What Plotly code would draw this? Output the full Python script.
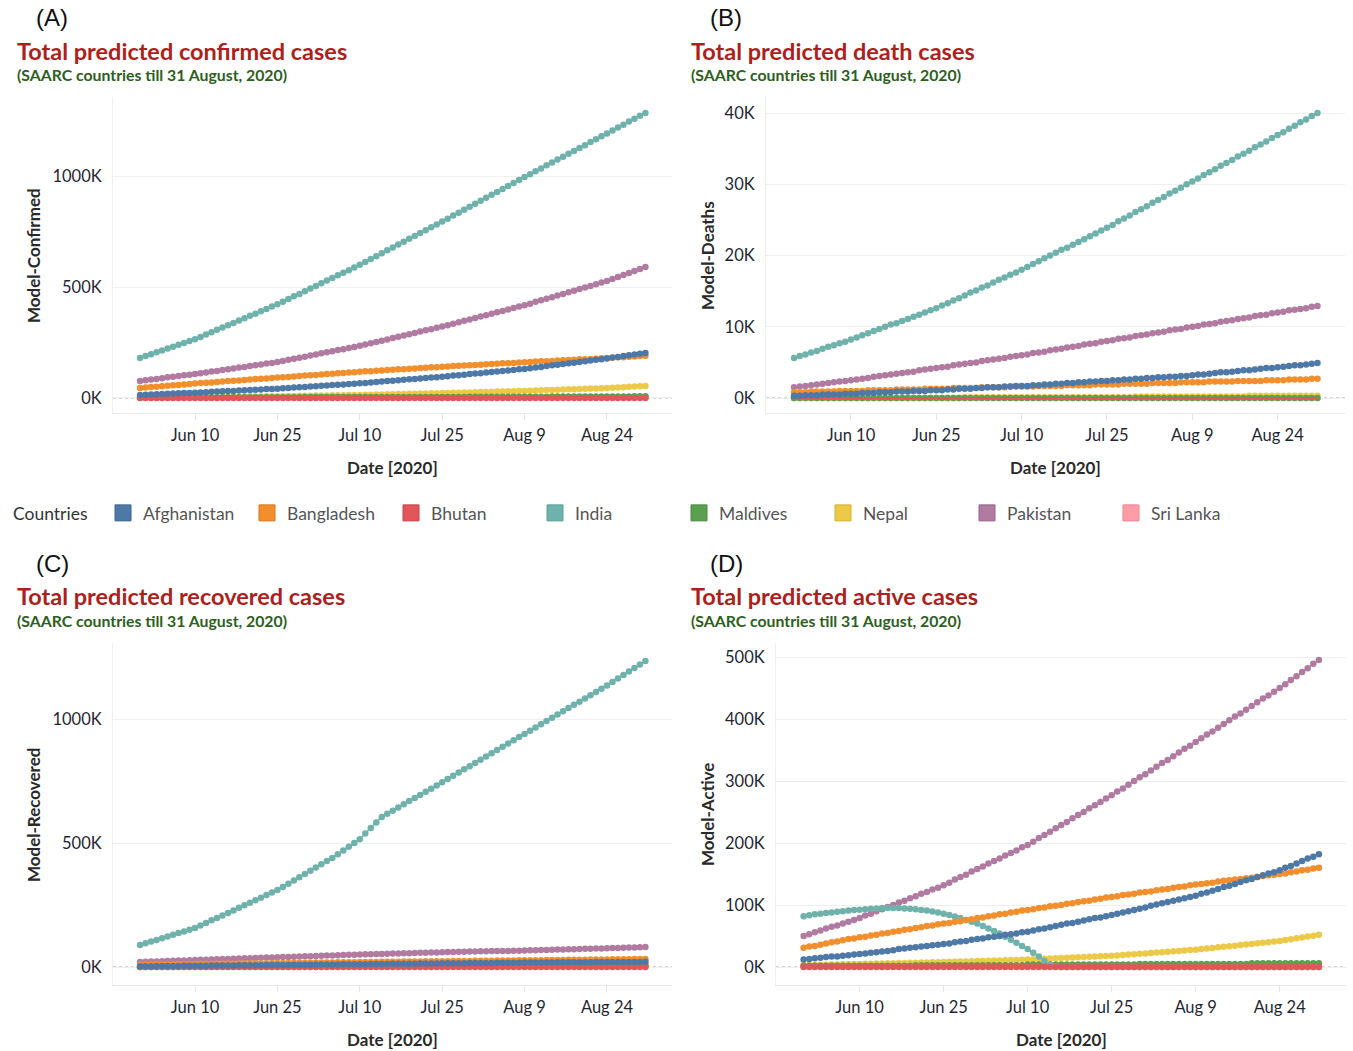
import pandas as pd
import plotly.graph_objects as go

# ---------------------------------------------------------------- data (K)
dates = pd.date_range("2020-05-31", "2020-08-31", freq="D")
tick_dates = ["2020-06-10", "2020-06-25", "2020-07-10", "2020-07-25", "2020-08-09", "2020-08-24"]
tick_labels = ["Jun 10", "Jun 25", "Jul 10", "Jul 25", "Aug 9", "Aug 24"]
countries = ["Afghanistan", "Bangladesh", "Bhutan", "India", "Maldives", "Nepal", "Pakistan", "Sri Lanka"]
colors = ["#4e79a7", "#f28e2b", "#e15759", "#6fb2ac", "#59a14f", "#edc948", "#b07aa1", "#ff9da7"]
edge_colors = ["#3b6491", "#d9761a", "#c8414a", "#57a09a", "#468c3d", "#d4b030", "#98628a", "#e8838e"]

ticks_confirmed = [0, 500, 1000]
ticks_deaths = [0, 10, 20, 30, 40]
ticks_recovered = [0, 500, 1000]
ticks_active = [0, 100, 200, 300, 400, 500]

# Confirmed cases
confirmed_afghanistan = [
    14, 15, 16, 17, 18, 19, 20, 21, 22, 23, 24,
    25, 26, 28, 29, 30, 31, 32, 34, 35, 36, 37, 38, 40, 41, 42,
    44, 45, 47, 48, 50, 52, 53, 55, 56, 58, 60, 61, 63, 64, 66,
    68, 70, 72, 74, 76, 78, 80, 82, 84, 86, 88, 90, 92, 94, 96,
    98, 101, 103, 105, 108, 110, 112, 115, 117, 119, 122, 124, 126, 129, 131,
    134, 137, 140, 144, 147, 150, 153, 156, 159, 162, 165, 169, 172, 175, 178,
    182, 185, 189, 192, 196, 199, 203]
confirmed_bangladesh = [
    45, 47, 49, 51, 53, 55, 57, 59, 61, 63, 65,
    67, 69, 70, 72, 74, 76, 78, 79, 81, 83, 85, 87, 88, 90, 92,
    94, 95, 97, 99, 101, 102, 104, 106, 108, 109, 111, 113, 115, 116, 118,
    120, 121, 123, 124, 126, 127, 129, 130, 132, 133, 135, 136, 138, 139, 141,
    142, 144, 145, 146, 148, 149, 150, 152, 153, 154, 156, 157, 158, 160, 161,
    162, 164, 165, 166, 167, 169, 170, 171, 172, 174, 175, 176, 177, 179, 180,
    181, 183, 184, 186, 187, 189, 190]
confirmed_bhutan = [
    0.1, 0.1, 0.1, 0.1, 0.1, 0.1, 0.1, 0.1, 0.1, 0.1, 0.1, 0.1, 0.1, 0.1, 0.1,
    0.1, 0.1, 0.1, 0.1, 0.1, 0.1, 0.1, 0.1, 0.1, 0.1, 0.1, 0.1, 0.1, 0.1, 0.1,
    0.2, 0.2, 0.2, 0.2, 0.2, 0.2, 0.2, 0.2, 0.2, 0.2, 0.2, 0.2, 0.2, 0.2, 0.2,
    0.2, 0.2, 0.2, 0.2, 0.2, 0.2, 0.2, 0.2, 0.2, 0.2, 0.2, 0.2, 0.2, 0.2, 0.2,
    0.2, 0.2, 0.2, 0.2, 0.2, 0.2, 0.2, 0.2, 0.2, 0.2,
    0.3, 0.3, 0.3, 0.3, 0.3, 0.3, 0.3, 0.3, 0.3, 0.3, 0.3, 0.3, 0.3, 0.3, 0.3,
    0.3, 0.3, 0.3, 0.3, 0.3, 0.3, 0.3, 0.3]
confirmed_india = [
    180, 189, 197, 206, 214, 223, 231, 240, 248, 257, 265,
    275, 286, 296, 307, 317, 328, 338, 349, 359, 370, 380, 391, 401, 412, 422,
    434, 446, 458, 469, 481, 493, 505, 517, 529, 541, 553, 564, 576, 588, 600,
    613, 626, 639, 652, 665, 678, 691, 704, 717, 730, 743, 756, 769, 782, 795,
    808, 822, 835, 848, 862, 875, 888, 902, 915, 928, 942, 955, 968, 982, 995,
    1008, 1021, 1034, 1048, 1061, 1074, 1087, 1100, 1113, 1126, 1139, 1153, 1166, 1179, 1192,
    1205, 1218, 1231, 1245, 1258, 1271, 1284]
confirmed_maldives = [
    2, 2, 2, 2, 2, 2, 2, 2, 2, 2, 2, 2, 2, 2, 2,
    3, 3, 3, 3, 3, 3, 3, 3, 3, 3, 3, 3, 3, 3, 3,
    4, 4, 4, 4, 4, 4, 4, 4, 4, 4, 4, 4, 4, 4, 4,
    5, 5, 5, 5, 5, 5, 5, 5, 5, 5, 5, 5, 5, 5, 5,
    6, 6, 6, 6, 6, 6, 6, 6, 6, 6, 6, 6, 6, 6, 6,
    7, 7, 7, 7, 7, 7, 7, 7, 7, 7, 7, 7, 7, 7, 7,
    8, 8, 8]
confirmed_nepal = [
    2.0, 2.2, 2.4, 2.6, 2.8, 3.0, 3.2, 3.4, 3.6, 3.8, 4.0,
    4.3, 4.5, 4.8, 5.1, 5.3, 5.6, 5.9, 6.1, 6.4, 6.7, 6.9, 7.2, 7.5, 7.7, 8.0,
    8.4, 8.8, 9.2, 9.6, 10.0, 10.4, 10.8, 11.2, 11.6, 12.0, 12.4, 12.8, 13.2, 13.6, 14.0,
    14.5, 15.1, 15.6, 16.1, 16.7, 17.2, 17.7, 18.3, 18.8, 19.3, 19.9, 20.4, 20.9, 21.5, 22.0,
    22.7, 23.3, 24.0, 24.7, 25.3, 26.0, 26.7, 27.3, 28.0, 28.7, 29.3, 30.0, 30.7, 31.3, 32.0,
    32.9, 33.7, 34.6, 35.5, 36.3, 37.2, 38.1, 38.9, 39.8, 40.7, 41.5, 42.4, 43.3, 44.1, 45.0,
    46.3, 47.6, 48.9, 50.1, 51.4, 52.7, 54.0]
confirmed_pakistan = [
    77, 80, 83, 86, 89, 93, 96, 99, 102, 105, 108,
    112, 115, 119, 122, 126, 130, 133, 137, 140, 144, 148, 151, 155, 158, 162,
    167, 172, 177, 181, 186, 191, 196, 201, 206, 211, 216, 220, 225, 230, 235,
    241, 247, 252, 258, 264, 270, 276, 281, 287, 293, 299, 305, 310, 316, 322,
    328, 335, 341, 348, 354, 360, 367, 373, 380, 386, 392, 399, 405, 412, 418,
    425, 433, 440, 447, 454, 462, 469, 476, 483, 491, 498, 505, 512, 520, 527,
    536, 545, 554, 563, 572, 581, 590]
confirmed_sri_lanka = [
    2, 2, 2, 2, 2, 2, 2, 2, 2, 2, 2, 2, 2, 2, 2,
    2, 2, 2, 2, 2, 2, 2, 2, 2, 2, 2, 2, 2, 2, 2,
    2, 2, 2, 2, 2, 2, 2, 2, 2, 2, 2, 2, 2, 2, 2,
    2, 2, 2, 2, 2,
    3, 3, 3, 3, 3, 3, 3, 3, 3, 3, 3, 3, 3, 3, 3,
    3, 3, 3, 3, 3, 3, 3, 3, 3, 3, 3, 3, 3, 3, 3,
    3, 3, 3, 3, 3, 3, 3, 3, 3, 3, 3, 3, 3]

# Deaths
deaths_afghanistan = [
    0.3, 0.3, 0.4, 0.4, 0.4, 0.5, 0.5, 0.5, 0.5, 0.6, 0.6,
    0.6, 0.7, 0.7, 0.7, 0.8, 0.8, 0.8, 0.9, 0.9, 0.9, 1.0, 1.0, 1.0, 1.1, 1.1,
    1.1, 1.2, 1.2, 1.3, 1.3, 1.3, 1.4, 1.4, 1.5, 1.5, 1.5, 1.6, 1.6, 1.7, 1.7,
    1.7, 1.8, 1.8, 1.9, 1.9, 2.0, 2.0, 2.1, 2.1, 2.2, 2.2, 2.3, 2.3, 2.4, 2.4,
    2.5, 2.5, 2.6, 2.6, 2.7, 2.7, 2.8, 2.8, 2.9, 2.9, 3.0, 3.0, 3.1, 3.1, 3.2,
    3.3, 3.3, 3.4, 3.5, 3.6, 3.6, 3.7, 3.8, 3.9, 3.9, 4.0, 4.1, 4.2, 4.2, 4.3,
    4.4, 4.5, 4.6, 4.6, 4.7, 4.8, 4.9]
deaths_bangladesh = [
    0.8, 0.8, 0.8, 0.9, 0.9, 0.9, 0.9, 0.9, 1.0, 1.0, 1.0,
    1.0, 1.0, 1.1, 1.1, 1.1, 1.1, 1.1, 1.2, 1.2, 1.2, 1.2, 1.2, 1.3, 1.3, 1.3,
    1.3, 1.3, 1.4, 1.4, 1.4, 1.4, 1.4, 1.5, 1.5, 1.5, 1.5, 1.5, 1.6, 1.6, 1.6,
    1.6, 1.6, 1.7, 1.7, 1.7, 1.7, 1.7, 1.8, 1.8, 1.8, 1.8, 1.8, 1.9, 1.9, 1.9,
    1.9, 1.9, 2.0, 2.0, 2.0, 2.0, 2.0, 2.1, 2.1, 2.1, 2.1, 2.1, 2.2, 2.2, 2.2,
    2.2, 2.2, 2.3, 2.3, 2.3, 2.3, 2.3, 2.4, 2.4, 2.4, 2.4, 2.4, 2.5, 2.5, 2.5,
    2.5, 2.6, 2.6, 2.6, 2.6, 2.7, 2.7]
deaths_bhutan = [
    0, 0, 0, 0, 0, 0, 0, 0, 0, 0, 0, 0, 0, 0, 0, 0, 0, 0, 0, 0, 0, 0, 0, 0, 0, 0, 0, 0, 0, 0, 0,
    0, 0, 0, 0, 0, 0, 0, 0, 0, 0, 0, 0, 0, 0, 0, 0, 0, 0, 0, 0, 0, 0, 0, 0, 0, 0, 0, 0, 0, 0, 0,
    0, 0, 0, 0, 0, 0, 0, 0, 0, 0, 0, 0, 0, 0, 0, 0, 0, 0, 0, 0, 0, 0, 0, 0, 0, 0, 0, 0, 0, 0, 0]
deaths_india = [
    5.6, 5.9, 6.1, 6.4, 6.6, 6.9, 7.2, 7.4, 7.7, 7.9, 8.2,
    8.5, 8.8, 9.1, 9.4, 9.7, 10.0, 10.3, 10.5, 10.8, 11.1, 11.4, 11.7, 12.0, 12.3, 12.6,
    13.0, 13.3, 13.7, 14.0, 14.4, 14.8, 15.1, 15.5, 15.8, 16.2, 16.6, 16.9, 17.3, 17.6, 18.0,
    18.4, 18.8, 19.2, 19.6, 20.0, 20.4, 20.8, 21.1, 21.5, 21.9, 22.3, 22.7, 23.1, 23.5, 23.9,
    24.3, 24.8, 25.2, 25.6, 26.1, 26.5, 26.9, 27.4, 27.8, 28.2, 28.7, 29.1, 29.5, 30.0, 30.4,
    30.8, 31.3, 31.7, 32.1, 32.6, 33.0, 33.4, 33.9, 34.3, 34.7, 35.2, 35.6, 36.0, 36.5, 36.9,
    37.3, 37.8, 38.2, 38.7, 39.1, 39.6, 40.0]
deaths_maldives = [
    0, 0, 0, 0, 0, 0, 0, 0, 0, 0, 0, 0, 0, 0, 0, 0, 0, 0, 0, 0, 0, 0, 0, 0, 0, 0, 0, 0, 0, 0, 0,
    0, 0, 0, 0, 0, 0, 0, 0, 0, 0, 0, 0, 0, 0, 0, 0, 0, 0, 0, 0, 0, 0, 0, 0, 0, 0, 0, 0, 0, 0, 0,
    0, 0, 0, 0, 0, 0, 0, 0, 0, 0, 0, 0, 0, 0, 0, 0, 0, 0, 0, 0, 0, 0, 0, 0, 0, 0, 0, 0, 0, 0, 0]
deaths_nepal = [
    0.0, 0.0, 0.0, 0.0, 0.0, 0.0, 0.0, 0.0, 0.0, 0.0, 0.0, 0.0, 0.0, 0.0, 0.0,
    0.0, 0.0, 0.0, 0.0, 0.0, 0.0, 0.0, 0.0, 0.0, 0.0, 0.0, 0.0, 0.0, 0.0, 0.0,
    0.1, 0.1, 0.1, 0.1, 0.1, 0.1, 0.1, 0.1, 0.1, 0.1, 0.1, 0.1, 0.1, 0.1, 0.1,
    0.1, 0.1, 0.1, 0.1, 0.1, 0.1, 0.1, 0.1, 0.1, 0.1, 0.1, 0.1, 0.1, 0.1, 0.1,
    0.2, 0.2, 0.2, 0.2, 0.2, 0.2, 0.2, 0.2, 0.2, 0.2, 0.2, 0.2, 0.2, 0.2, 0.2,
    0.2, 0.2, 0.2, 0.2, 0.2,
    0.3, 0.3, 0.3, 0.3, 0.3, 0.3, 0.3, 0.3, 0.3, 0.3, 0.3, 0.3, 0.3]
deaths_pakistan = [
    1.5, 1.6, 1.7, 1.8, 1.9, 2.0, 2.1, 2.2, 2.3, 2.4, 2.5,
    2.6, 2.7, 2.8, 3.0, 3.1, 3.2, 3.3, 3.4, 3.5, 3.6, 3.7, 3.9, 4.0, 4.1, 4.2,
    4.3, 4.4, 4.6, 4.7, 4.8, 4.9, 5.0, 5.2, 5.3, 5.4, 5.5, 5.6, 5.8, 5.9, 6.0,
    6.1, 6.3, 6.4, 6.5, 6.7, 6.8, 6.9, 7.1, 7.2, 7.3, 7.5, 7.6, 7.7, 7.9, 8.0,
    8.1, 8.3, 8.4, 8.5, 8.7, 8.8, 8.9, 9.1, 9.2, 9.3, 9.5, 9.6, 9.7, 9.9, 10.0,
    10.1, 10.3, 10.4, 10.5, 10.7, 10.8, 10.9, 11.1, 11.2, 11.3, 11.5, 11.6, 11.7, 11.9, 12.0,
    12.1, 12.3, 12.4, 12.5, 12.6, 12.8, 12.9]
deaths_sri_lanka = [
    0, 0, 0, 0, 0, 0, 0, 0, 0, 0, 0, 0, 0, 0, 0, 0, 0, 0, 0, 0, 0, 0, 0, 0, 0, 0, 0, 0, 0, 0, 0,
    0, 0, 0, 0, 0, 0, 0, 0, 0, 0, 0, 0, 0, 0, 0, 0, 0, 0, 0, 0, 0, 0, 0, 0, 0, 0, 0, 0, 0, 0, 0,
    0, 0, 0, 0, 0, 0, 0, 0, 0, 0, 0, 0, 0, 0, 0, 0, 0, 0, 0, 0, 0, 0, 0, 0, 0, 0, 0, 0, 0, 0, 0]

# Recovered
recovered_afghanistan = [
    3, 3, 3, 4, 4, 4, 4, 4, 5, 5, 5,
    5, 5, 6, 6, 6, 6, 6, 7, 7, 7, 7, 7, 8, 8, 8,
    8, 8, 9, 9, 9, 9, 10, 10, 10, 10, 10, 11, 11, 11, 11,
    11, 12, 12, 12, 12, 13, 13, 13, 13, 13, 14, 14, 14, 14, 15,
    15, 15, 15, 15, 16, 16, 16, 16, 16, 17, 17, 17, 17, 17, 18,
    18, 18, 18, 18, 18, 19, 19, 19, 19, 19, 19, 19, 20, 20, 20,
    20, 20, 20, 20, 20, 20, 21]
recovered_bangladesh = [
    10, 10, 10, 11, 11, 11, 11, 12, 12, 12, 12,
    13, 13, 13, 13, 14, 14, 14, 14, 15, 15, 15, 15, 15, 16, 16,
    16, 16, 17, 17, 17, 17, 18, 18, 18, 18, 19, 19, 19, 19, 20,
    20, 20, 20, 21, 21, 21, 21, 22, 22, 22, 22, 23, 23, 23, 23,
    23, 24, 24, 24, 24, 25, 25, 25, 25, 26, 26, 26, 26, 27, 27,
    27, 27, 27, 28, 28, 28, 28, 29, 29, 29, 29, 30, 30, 30, 30,
    31, 31, 31, 31, 32, 32, 32]
recovered_bhutan = [
    0.0, 0.0, 0.0, 0.0, 0.0, 0.0, 0.0, 0.0, 0.0, 0.0, 0.0, 0.0, 0.0, 0.0, 0.0,
    0.0, 0.0, 0.0, 0.0, 0.0, 0.0, 0.0, 0.0, 0.0, 0.0, 0.0, 0.0, 0.0, 0.0, 0.0,
    0.0, 0.0, 0.0, 0.0, 0.0, 0.0, 0.0, 0.0, 0.0, 0.0,
    0.1, 0.1, 0.1, 0.1, 0.1, 0.1, 0.1, 0.1, 0.1, 0.1, 0.1, 0.1, 0.1, 0.1, 0.1,
    0.1, 0.1, 0.1, 0.1, 0.1, 0.1, 0.1, 0.1, 0.1, 0.1, 0.1, 0.1, 0.1, 0.1, 0.1,
    0.1, 0.1, 0.1, 0.1, 0.1, 0.1, 0.1, 0.1, 0.1, 0.1, 0.1, 0.1, 0.1, 0.1, 0.1,
    0.1, 0.1, 0.1, 0.1, 0.1, 0.1, 0.1, 0.1]
recovered_india = [
    89, 96, 103, 109, 116, 123, 130, 137, 143, 150, 157,
    167, 177, 188, 198, 208, 218, 228, 239, 249, 259, 269, 279, 290, 300, 310,
    323, 336, 349, 362, 375, 388, 401, 414, 427, 440,
    455, 470, 485, 500, 515,
    538, 560, 583, 605,
    618, 630, 643, 656, 669, 681, 694, 707, 719, 732, 745,
    758, 771, 784, 797, 810, 823, 836, 849, 862, 875, 888, 901, 914, 927, 940,
    953, 966, 979, 992, 1005, 1018, 1031, 1044, 1057, 1070, 1083, 1096, 1109, 1122, 1135,
    1149, 1163, 1177, 1192, 1206, 1220, 1234]
recovered_maldives = [
    1, 1, 1, 1, 1, 1, 1, 1, 1, 1, 1, 1, 1, 1, 1,
    2, 2, 2, 2, 2, 2, 2, 2, 2, 2, 2, 2, 2, 2, 2,
    3, 3, 3, 3, 3, 3, 3, 3, 3, 3, 3, 3, 3, 3, 3,
    4, 4, 4, 4, 4, 4, 4, 4, 4, 4, 4, 4, 4, 4, 4,
    5, 5, 5, 5, 5, 5, 5, 5, 5, 5, 5, 5, 5, 5, 5,
    6, 6, 6, 6, 6, 6, 6, 6, 6, 6, 6, 6, 6, 6, 6, 6, 6, 6]
recovered_nepal = [
    0, 0, 0, 0, 0, 0, 1, 1, 1, 1, 1,
    1, 1, 1, 1, 1, 1, 1, 1, 2, 2, 2, 2, 2, 2, 2,
    2, 2, 3, 3, 3, 3, 3, 3, 3, 4, 4, 4, 4, 4, 4,
    4, 5, 5, 5, 5, 5, 5, 6, 6, 6, 6, 6, 6, 7, 7,
    7, 7, 7, 7, 8, 8, 8, 8, 8, 8, 9, 9, 9, 9, 9,
    9, 10, 10, 10, 10, 10, 10, 11, 11, 11, 11, 11, 11, 12, 12,
    12, 12, 12, 12, 12, 13, 13]
recovered_pakistan = [
    20, 21, 22, 22, 23, 24, 25, 26, 26, 27, 28,
    29, 29, 30, 31, 32, 32, 33, 34, 35, 35, 36, 37, 38, 38, 39,
    40, 40, 41, 42, 43, 43, 44, 45, 46, 46, 47, 48, 49, 49, 50,
    51, 51, 52, 52, 53, 54, 54, 55, 55, 56, 57, 57, 58, 58, 59,
    60, 60, 61, 61, 62, 62, 63, 63, 64, 64, 65, 65, 66, 66, 67,
    68, 68, 69, 69, 70, 71, 71, 72, 72, 73, 74, 74, 75, 75, 76,
    77, 77, 78, 79, 79, 80, 81]
recovered_sri_lanka = [
    1, 1, 1, 1, 1, 1, 1, 1, 1, 1, 1, 1, 1, 1, 1,
    1, 1, 1, 1, 1, 1, 1, 1, 1, 1, 1, 1, 1, 1, 1,
    2, 2, 2, 2, 2, 2, 2, 2, 2, 2, 2, 2, 2, 2, 2,
    2, 2, 2, 2, 2, 2, 2, 2, 2, 2, 2, 2, 2, 2, 2,
    3, 3, 3, 3, 3, 3, 3, 3, 3, 3, 3, 3, 3, 3, 3,
    3, 3, 3, 3, 3, 3, 3, 3, 3, 3, 3, 3, 3, 3, 3, 3, 3, 3]

# Active cases
active_afghanistan = [
    12, 13, 14, 15, 16, 17, 17, 18, 19, 20, 21,
    22, 23, 24, 25, 26, 27, 29, 30, 31, 32, 33, 34, 35, 36, 37,
    38, 40, 41, 42, 44, 45, 46, 48, 49, 50, 52, 53, 54, 56, 57,
    59, 61, 62, 64, 66, 68, 70, 71, 73, 75, 77, 79, 80, 82, 84,
    86, 88, 90, 92, 94, 96, 99, 101, 103, 105, 107, 109, 111, 113, 115,
    118, 120, 123, 126, 129, 131, 134, 137, 140, 142, 145, 148, 151, 153, 156,
    160, 163, 167, 171, 175, 178, 182]
active_bangladesh = [
    31, 33, 34, 36, 38, 40, 41, 43, 45, 46, 48,
    49, 51, 52, 54, 55, 57, 58, 60, 61, 63, 64, 66, 67, 69, 70,
    71, 73, 74, 76, 77, 79, 80, 82, 83, 85, 86, 88, 89, 91, 92,
    93, 95, 96, 98, 99, 100, 102, 103, 105, 106, 107, 109, 110, 112, 113,
    114, 116, 117, 118, 120, 121, 122, 124, 125, 126, 128, 129, 130, 132, 133,
    134, 135, 136, 138, 139, 140, 141, 142, 143, 144, 145, 147, 148, 149, 150,
    151, 153, 154, 156, 157, 159, 160]
active_bhutan = [
    0, 0, 0, 0, 0, 0, 0, 0, 0, 0, 0, 0, 0, 0, 0, 0, 0, 0, 0, 0, 0, 0, 0, 0, 0, 0, 0, 0, 0, 0, 0,
    0, 0, 0, 0, 0, 0, 0, 0, 0, 0, 0, 0, 0, 0, 0, 0, 0, 0, 0, 0, 0, 0, 0, 0, 0, 0, 0, 0, 0, 0, 0,
    0, 0, 0, 0, 0, 0, 0, 0, 0, 0, 0, 0, 0, 0, 0, 0, 0, 0, 0, 0, 0, 0, 0, 0, 0, 0, 0, 0, 0, 0, 0]
active_india = [
    82, 83.5, 85, 86, 87, 88, 89, 90, 91, 92, 92.5,
    93, 94, 94.5, 95, 95, 95, 95, 94.5, 94, 93, 92, 91, 89.5, 88, 86,
    84, 81.5, 79, 76, 73, 70, 66, 62, 58, 54, 49, 44, 39, 34, 29,
    23, 17, 10, 4, 1,
    0, 0, 0, 0, 0, 0, 0, 0, 0, 0, 0, 0, 0, 0, 0, 0,
    0, 0, 0, 0, 0, 0, 0, 0, 0, 0, 0, 0, 0, 0, 0, 0,
    0, 0, 0, 0, 0, 0, 0, 0, 0, 0, 0, 0, 0, 0, 0]
active_maldives = [
    2, 2, 2, 2, 2, 2, 2, 2, 2, 2, 2, 2, 2, 2, 2, 2, 2, 2, 2, 2,
    3, 3, 3, 3, 3, 3, 3, 3, 3, 3, 3, 3, 3, 3, 3, 3, 3, 3, 3, 3,
    4, 4, 4, 4, 4, 4, 4, 4, 4, 4, 4, 4, 4, 4, 4, 4, 4, 4, 4, 4,
    5, 5, 5, 5, 5, 5, 5, 5, 5, 5, 5, 5, 5, 5, 5, 5, 5, 5, 5, 5,
    6, 6, 6, 6, 6, 6, 6, 6, 6, 6, 6, 6, 6]
active_nepal = [
    3.0, 3.2, 3.4, 3.6, 3.8, 4.0, 4.2, 4.4, 4.6, 4.8, 5.0,
    5.2, 5.4, 5.6, 5.8, 6.0, 6.2, 6.4, 6.6, 6.8, 7.0, 7.2, 7.4, 7.6, 7.8, 8.0,
    8.3, 8.5, 8.8, 9.1, 9.3, 9.6, 9.9, 10.1, 10.4, 10.7, 10.9, 11.2, 11.5, 11.7, 12.0,
    12.4, 12.8, 13.2, 13.6, 14.0, 14.4, 14.8, 15.2, 15.6, 16.0, 16.4, 16.8, 17.2, 17.6, 18.0,
    18.7, 19.3, 20.0, 20.7, 21.3, 22.0, 22.7, 23.3, 24.0, 24.7, 25.3, 26.0, 26.7, 27.3, 28.0,
    28.9, 29.9, 30.8, 31.7, 32.7, 33.6, 34.5, 35.5, 36.4, 37.3, 38.3, 39.2, 40.1, 41.1, 42.0,
    43.4, 44.9, 46.3, 47.7, 49.1, 50.6, 52.0]
active_pakistan = [
    50, 53, 56, 59, 62, 65, 67, 70, 73, 76, 79,
    83, 86, 90, 93, 97, 100, 104, 107, 111, 114, 118, 121, 125, 128, 132,
    136, 141, 145, 149, 154, 158, 162, 167, 171, 175, 180, 184, 188, 193, 197,
    202, 208, 213, 218, 224, 229, 234, 240, 245, 250, 256, 261, 266, 272, 277,
    283, 288, 294, 300, 306, 311, 317, 323, 329, 334, 340, 346, 352, 357, 363,
    369, 375, 380, 386, 392, 398, 404, 409, 415, 421, 427, 433, 438, 444, 450,
    456, 463, 469, 476, 482, 489, 495]
active_sri_lanka = [
    1, 1, 1, 1, 1, 1, 1, 1, 1, 1, 1, 1, 1, 1, 1, 1, 1, 1, 1, 1, 1, 1, 1, 1, 1, 1, 1, 1, 1, 1, 1,
    1, 1, 1, 1, 1, 1, 1, 1, 1, 1, 1, 1, 1, 1, 1, 1, 1, 1, 1, 1, 1, 1, 1, 1, 1, 1, 1, 1, 1, 1, 1,
    1, 1, 1, 1, 1, 1, 1, 1, 1, 1, 1, 1, 1, 1, 1, 1, 1, 1, 1, 1, 1, 1, 1, 1, 1, 1, 1, 1, 1, 1, 1]

confirmed = dict(zip(countries, [confirmed_afghanistan, confirmed_bangladesh, confirmed_bhutan, confirmed_india,
                                 confirmed_maldives, confirmed_nepal, confirmed_pakistan, confirmed_sri_lanka]))
deaths = dict(zip(countries, [deaths_afghanistan, deaths_bangladesh, deaths_bhutan, deaths_india,
                              deaths_maldives, deaths_nepal, deaths_pakistan, deaths_sri_lanka]))
recovered = dict(zip(countries, [recovered_afghanistan, recovered_bangladesh, recovered_bhutan, recovered_india,
                                 recovered_maldives, recovered_nepal, recovered_pakistan, recovered_sri_lanka]))
active = dict(zip(countries, [active_afghanistan, active_bangladesh, active_bhutan, active_india,
                              active_maldives, active_nepal, active_pakistan, active_sri_lanka]))

for name, table in [("confirmed", confirmed), ("deaths", deaths), ("recovered", recovered), ("active", active)]:
    for c, v in table.items():
        assert len(v) == len(dates), f"{name}/{c}: {len(v)} values"

# ---------------------------------------------------------------- layout
W, H = 1353, 1051
FONT = "Lato, 'Open Sans', sans-serif"


def fx(px):
    return px / W


def fy(py):
    return 1 - py / H


color_of = dict(zip(countries, colors))
edge_of = dict(zip(countries, edge_colors))
draw_order = ["Sri Lanka", "Pakistan", "Nepal", "Maldives", "India", "Bhutan", "Bangladesh", "Afghanistan"]
x_range = ["2020-05-26 01:40", "2020-09-04 20:10"]

panels = [
    dict(tag="(A)", title="Total predicted confirmed cases", ytitle="Model-Confirmed", data=confirmed,
         xd=(113, 672), yd=(97, 413), yr=(-67.6, 1355.9), ticks=ticks_confirmed, left=15),
    dict(tag="(B)", title="Total predicted death cases", ytitle="Model-Deaths", data=deaths,
         xd=(766, 1345), yd=(97, 413), yr=(-2.105, 42.25), ticks=ticks_deaths, left=689,
         line_only={"Bhutan"}),
    dict(tag="(C)", title="Total predicted recovered cases", ytitle="Model-Recovered", data=recovered,
         xd=(113, 672), yd=(643, 985), yr=(-72.6, 1306.5), ticks=ticks_recovered, left=15),
    dict(tag="(D)", title="Total predicted active cases", ytitle="Model-Active", data=active,
         xd=(776, 1346), yd=(643, 985), yr=(-29.0, 522.6), ticks=ticks_active, left=689),
]

fig = go.Figure()
annotations = []
shapes = []
layout_axes = {}

for i, p in enumerate(panels, start=1):
    sx = "" if i == 1 else str(i)
    xa, ya = "x" + sx, "y" + sx
    for c in draw_order:
        line_only = c in p.get("line_only", set())
        fig.add_trace(go.Scatter(
            x=dates, y=p["data"][c], xaxis=xa, yaxis=ya, name=c, showlegend=False,
            mode="lines" if line_only else "lines+markers",
            line=dict(color=color_of[c], width=2 if line_only else 1.5),
            marker=dict(color=color_of[c], size=6.5, line=dict(width=0)),
            hovertemplate="%{x|%b %d}: %{y}K<extra>" + c + "</extra>",
        ))

    layout_axes["xaxis" + sx] = dict(
        domain=[fx(p["xd"][0]), fx(p["xd"][1])], anchor=ya, type="date", range=x_range,
        tickvals=tick_dates, ticktext=tick_labels, showgrid=False, zeroline=False,
        showline=True, linecolor="#e8e8e8", linewidth=1,
        ticks="outside", ticklen=6, tickcolor="#e4e4e4", ticklabelstandoff=1,
        tickfont=dict(family=FONT, size=16.5, color="#1f2633"),
    )
    layout_axes["yaxis" + sx] = dict(
        domain=[fy(p["yd"][1]), fy(p["yd"][0])], anchor=xa, range=list(p["yr"]),
        tickvals=p["ticks"], ticktext=[f"{t}K" for t in p["ticks"]],
        showgrid=True, gridcolor="#efefef", gridwidth=1,
        zeroline=False, showline=True, linecolor="#efefef", linewidth=1, ticks="",
        ticklabelstandoff=7, tickfont=dict(family=FONT, size=16.5, color="#1f2633"),
    )
    # dotted baseline at zero
    shapes.append(dict(type="line", xref=xa + " domain", x0=0, x1=1, yref=ya, y0=0, y1=0,
                       line=dict(color="#a9a9a9", width=1, dash="dot"), layer="below"))

    top = p["yd"][0]
    base = 18 if top < 500 else 563
    annotations += [
        dict(text=p["tag"], x=fx(p["left"] + 19), y=fy(base), xref="paper", yref="paper",
             xanchor="left", yanchor="middle", showarrow=False,
             font=dict(family="Liberation Sans, Arial, sans-serif", size=24, color="#111111")),
        dict(text=p["title"], x=fx(p["left"]), y=fy(base + 33), xref="paper", yref="paper",
             xanchor="left", yanchor="middle", showarrow=False,
             font=dict(family=FONT, size=23.5, color="#ad1f1c", weight="bold")),
        dict(text="(SAARC countries till 31 August, 2020)", x=fx(p["left"]), y=fy(base + 57),
             xref="paper", yref="paper", xanchor="left", yanchor="middle", showarrow=False,
             font=dict(family=FONT, size=15.8, color="#2c601c", weight="bold")),
        dict(text="Date [2020]", x=fx((p["xd"][0] + p["xd"][1]) / 2), y=fy(p["yd"][1] + 54),
             xref="paper", yref="paper", xanchor="center", yanchor="middle", showarrow=False,
             font=dict(family=FONT, size=17, color="#2a2a2a", weight="bold")),
        dict(text=p["ytitle"], x=fx(p["left"] + 18), y=fy((p["yd"][0] + p["yd"][1]) / 2 + 1),
             xref="paper", yref="paper", xanchor="center", yanchor="middle", showarrow=False,
             textangle=-90, font=dict(family=FONT, size=17, color="#2a2a2a", weight="bold")),
    ]

# legend swatches
for rank, c in enumerate(countries):
    fig.add_trace(go.Scatter(
        x=[None], y=[None], mode="markers", name=c, legendrank=rank + 1, showlegend=True,
        marker=dict(symbol="square", size=16, color=color_of[c], line=dict(width=1, color=edge_of[c])),
        hoverinfo="skip",
    ))

annotations.append(dict(text="Countries", x=fx(11), y=fy(513), xref="paper", yref="paper",
                        xanchor="left", yanchor="middle", showarrow=False,
                        font=dict(family=FONT, size=17.5, color="#333333")))

fig.update_layout(
    width=W, height=H, margin=dict(l=0, r=0, t=0, b=0),
    paper_bgcolor="white", plot_bgcolor="white",
    showlegend=True,
    legend=dict(orientation="h", x=fx(103), y=fy(513), xanchor="left", yanchor="middle",
                entrywidth=99, entrywidthmode="pixels", itemwidth=30,
                font=dict(family=FONT, size=17.5, color="#555555"), bgcolor="rgba(0,0,0,0)",
                itemclick=False, itemdoubleclick=False),
    annotations=annotations, shapes=shapes, **layout_axes,
)

fig.write_html("out.html")
